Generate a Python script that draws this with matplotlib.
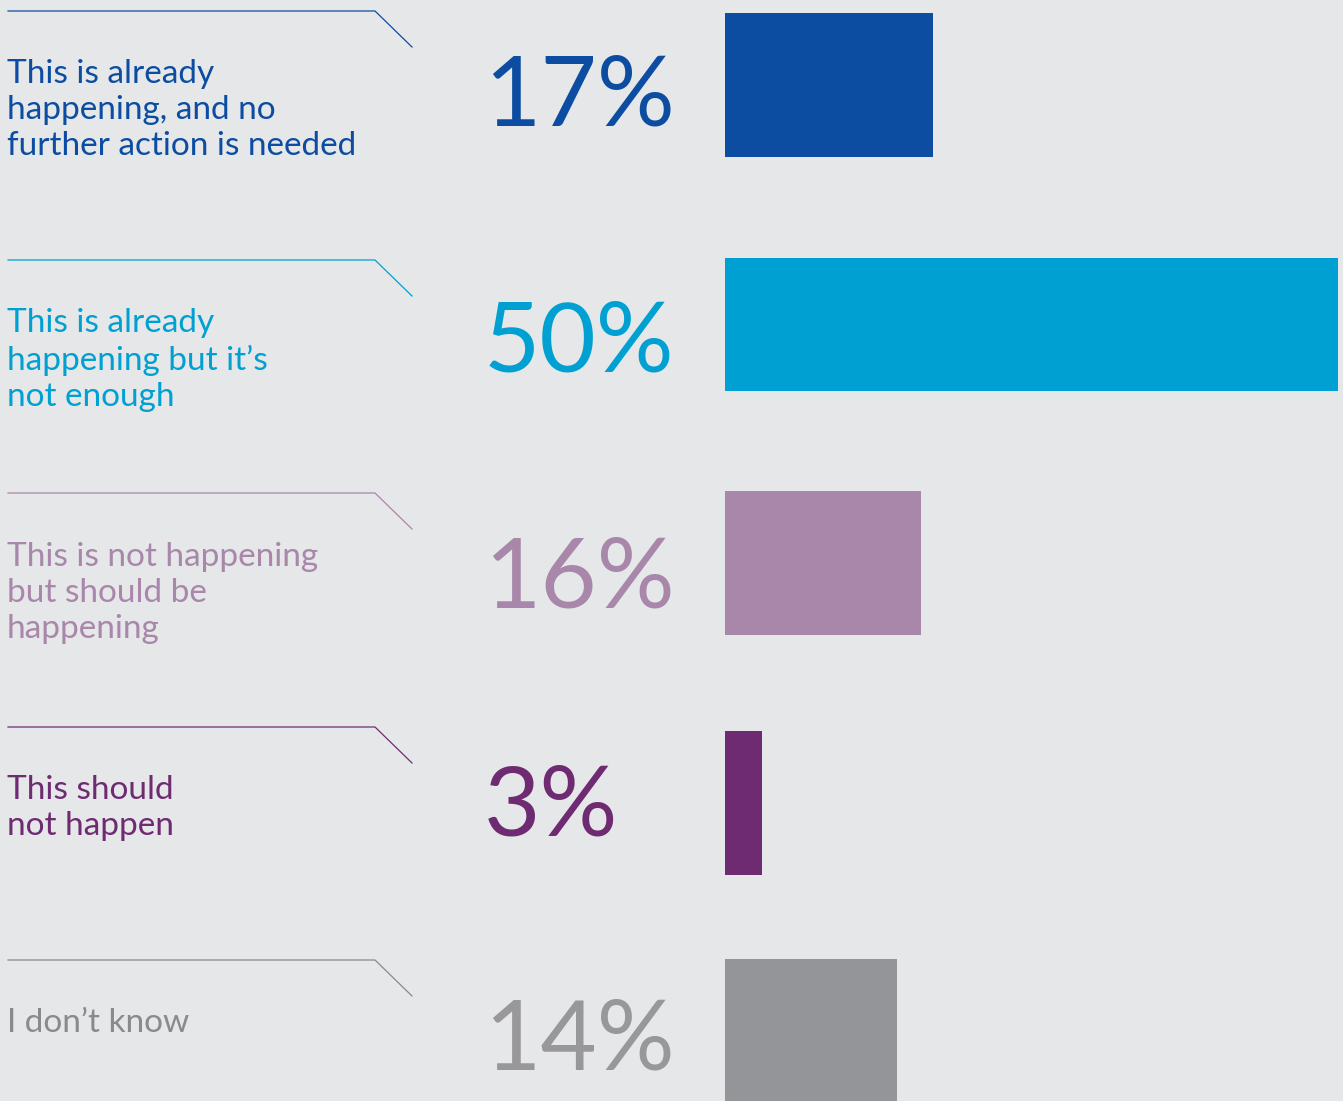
import matplotlib.pyplot as plt

labels = [
    "This is already\nhappening, and no\nfurther action is needed",
    "This is already\nhappening but it\u2019s\nnot enough",
    "This is not happening\nbut should be\nhappening",
    "This should\nnot happen",
    "I don\u2019t know",
]
values = [17, 50, 16, 3, 14]
colors = ["#0C4DA2", "#00A0D2", "#A887AA", "#6F2B72", "#949598"]
text_colors = ["#0C4DA2", "#00A0D2", "#A887AA", "#6F2B72", "#8A8A8C"]
pct_colors = ["#0C4DA2", "#00A0D2", "#A887AA", "#6F2B72", "#98989A"]

# layout in pixel units (figure is 1343 x 1101)
W, H = 1343, 1101
row_top = [11, 260, 493, 727, 960]
bar_center = [85, 324.5, 563, 803, 1031]
bar_height = [144, 133, 144, 144, 144]
label_top = [59, 308, 542, 775, 1008]
pct_base = [125, 372, 608, 836, 1070]

bg = "#E6E7E9"
plt.rcParams['font.family'] = ['Lato', 'DejaVu Sans']

fig = plt.figure(figsize=(W / 100, H / 100), dpi=100, facecolor=bg)
ax = fig.add_axes([0, 0, 1, 1])
ax.set_xlim(0, W)
ax.set_ylim(H, 0)
ax.axis('off')

bar_left = 725
px_per_pct = 613 / 50
bx = fig.add_axes([bar_left / W, 0, (W - bar_left) / W, 1])
bx.set_xlim(0, (W - bar_left) / px_per_pct)
bx.set_ylim(H, 0)
bx.axis('off')
bx.barh(bar_center, values, height=bar_height, color=colors, left=0)

for i in range(len(values)):
    y0 = row_top[i]
    ax.plot([8, 375, 412], [y0, y0, y0 + 36], color=text_colors[i], lw=0.9)
    ax.text(7, label_top[i], labels[i], color=text_colors[i], fontsize=24,
            va='top', ha='left', linespacing=1.25)
    ax.text(484, pct_base[i], f"{values[i]}%", color=pct_colors[i], fontsize=70,
            va='baseline', ha='left')

fig.savefig('out.png', dpi=100, facecolor=bg)
